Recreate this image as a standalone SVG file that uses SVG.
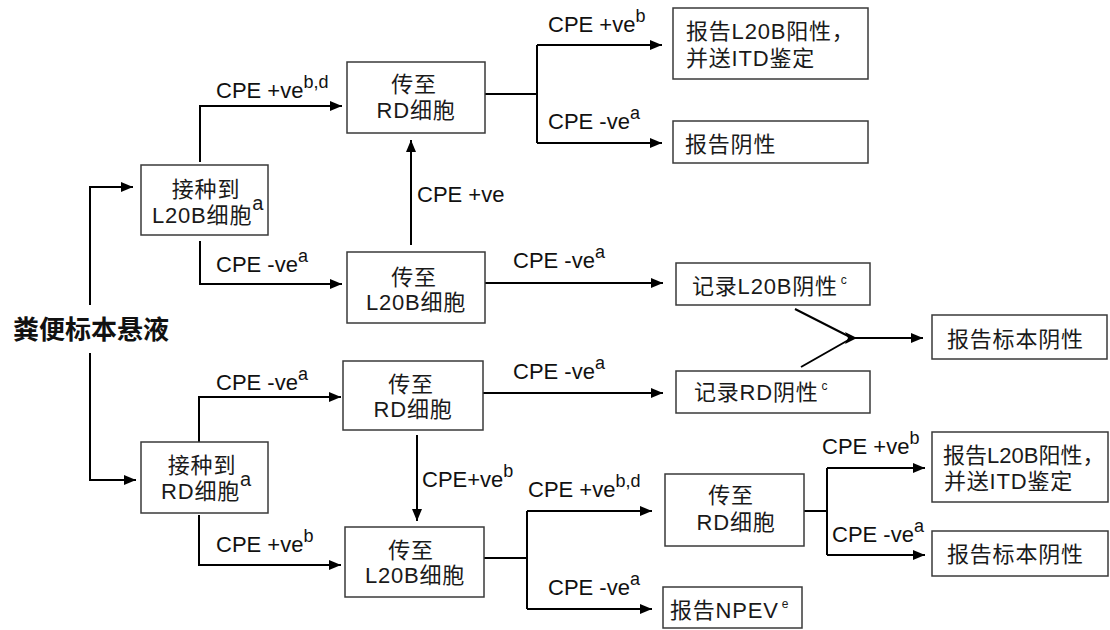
<svg xmlns="http://www.w3.org/2000/svg" width="1110" height="630" viewBox="0 0 1110 630">
<style>
.box{fill:#fff;stroke:#3a3a3a;stroke-width:1.5}
.t{font-family:"Liberation Sans","Noto Sans CJK SC",sans-serif;font-size:22px;letter-spacing:0.8px;fill:#1a1a1a}
.tn{letter-spacing:0}
.c{text-anchor:middle}
.lbl{font-family:"Liberation Sans","Noto Sans CJK SC",sans-serif;font-size:22px;fill:#111}
.sup{font-size:18px}
.sm{font-size:12px}
.main{font-family:"Liberation Sans","Noto Sans CJK SC",sans-serif;font-size:26px;font-weight:bold;fill:#111}
.ln{fill:none;stroke:#000;stroke-width:2}
.ar{marker-end:url(#ah)}
</style>
<defs>
<marker id="ah" markerUnits="userSpaceOnUse" markerWidth="13" markerHeight="11" refX="12" refY="5" orient="auto">
<path d="M0,0 L12,5 L0,10 z" fill="#000"/>
</marker>
</defs>
<rect width="1110" height="630" fill="#fff"/>

<g id="connectors">
<path class="ln ar" d="M90,305 V187 H133"/>
<path class="ln ar" d="M90,353 V480 H136"/>
<path class="ln ar" d="M200,162 V106 H342"/>
<path class="ln ar" d="M200,241 V284 H342"/>
<path class="ln" d="M485,94 H537 M537,45 V143"/>
<path class="ln ar" d="M537,45 H662"/>
<path class="ln ar" d="M537,143 H662"/>
<path class="ln ar" d="M411,245 V140"/>
<path class="ln ar" d="M485,283 H663"/>
<path class="ln" d="M795,309 L852,338 M801,367 L852,338"/>
<path d="M845,332 L857,338 L845,344 L848,338 z" fill="#000"/>
<path class="ln ar" d="M852,338 H923"/>
<path class="ln ar" d="M199,442 V397 H341"/>
<path class="ln ar" d="M199,515 V565 H341"/>
<path class="ln ar" d="M483,393 H663"/>
<path class="ln ar" d="M417,435 V521"/>
<path class="ln" d="M484,558 H527 M527,511 V609"/>
<path class="ln ar" d="M527,511 H652"/>
<path class="ln ar" d="M527,609 H652"/>
<path class="ln" d="M804,511 H827 M827,468 V555"/>
<path class="ln ar" d="M827,468 H925"/>
<path class="ln ar" d="M827,555 H925"/>
</g>

<g id="labels">
<text class="lbl" x="216" y="98">CPE +ve<tspan class="sup" dy="-10">b,d</tspan></text>
<text class="lbl" x="216" y="272">CPE -ve<tspan class="sup" dy="-10">a</tspan></text>
<text class="lbl" x="548" y="32">CPE +ve<tspan class="sup" dy="-10">b</tspan></text>
<text class="lbl" x="548" y="129">CPE -ve<tspan class="sup" dy="-10">a</tspan></text>
<text class="lbl" x="417" y="202">CPE +ve</text>
<text class="lbl" x="513" y="268">CPE -ve<tspan class="sup" dy="-10">a</tspan></text>
<text class="lbl" x="216" y="390">CPE -ve<tspan class="sup" dy="-10">a</tspan></text>
<text class="lbl" x="216" y="552">CPE +ve<tspan class="sup" dy="-10">b</tspan></text>
<text class="lbl" x="513" y="379">CPE -ve<tspan class="sup" dy="-10">a</tspan></text>
<text class="lbl" x="422" y="487">CPE+ve<tspan class="sup" dy="-10">b</tspan></text>
<text class="lbl" x="528" y="497">CPE +ve<tspan class="sup" dy="-10">b,d</tspan></text>
<text class="lbl" x="548" y="595">CPE -ve<tspan class="sup" dy="-10">a</tspan></text>
<text class="lbl" x="822" y="454">CPE +ve<tspan class="sup" dy="-10">b</tspan></text>
<text class="lbl" x="832" y="542">CPE -ve<tspan class="sup" dy="-10">a</tspan></text>
</g>

<g id="n-source">
<text class="main" x="13" y="339">粪便标本悬液</text>
</g>

<g id="n-inoc-l20b">
<rect class="box" x="141" y="165" width="127" height="70"/>
<text class="t c" x="206" y="197">接种到</text>
<text class="t" x="152" y="223">L20B细胞<tspan font-size="20" dy="-13">a</tspan></text>
</g>

<g id="n-rd-top">
<rect class="box" x="347" y="62" width="138" height="71"/>
<text class="t c" x="414" y="92">传至</text>
<text class="t c" x="416" y="118">RD细胞</text>
</g>

<g id="n-report-l20b-top">
<rect class="box" x="673" y="8" width="195" height="71"/>
<text class="t" x="686" y="39">报告L20B阳性，</text>
<text class="t" x="686" y="66">并送ITD鉴定</text>
</g>

<g id="n-report-neg-top">
<rect class="box" x="673" y="121" width="195" height="42"/>
<text class="t" x="685" y="152">报告阴性</text>
</g>

<g id="n-l20b-mid">
<rect class="box" x="347" y="252" width="138" height="71"/>
<text class="t c" x="414" y="285">传至</text>
<text class="t c" x="416" y="310">L20B细胞</text>
</g>

<g id="n-rec-l20b-neg">
<rect class="box" x="676" y="263" width="194" height="42"/>
<text class="t" x="692" y="294">记录L20B阴性<tspan class="sm" dx="3" dy="-10">c</tspan></text>
</g>

<g id="n-report-sample-neg-mid">
<rect class="box" x="932" y="315" width="175" height="44"/>
<text class="t" x="947" y="347">报告标本阴性</text>
</g>

<g id="n-rec-rd-neg">
<rect class="box" x="676" y="371" width="194" height="42"/>
<text class="t" x="694" y="400">记录RD阴性<tspan class="sm" dx="3" dy="-10">c</tspan></text>
</g>

<g id="n-inoc-rd">
<rect class="box" x="141" y="442" width="127" height="71"/>
<text class="t c" x="202" y="473">接种到</text>
<text class="t" x="161" y="499">RD细胞<tspan font-size="20" dy="-13">a</tspan></text>
</g>

<g id="n-rd-mid">
<rect class="box" x="343" y="361" width="140" height="69"/>
<text class="t c" x="411" y="392">传至</text>
<text class="t c" x="413" y="417">RD细胞</text>
</g>

<g id="n-l20b-bottom">
<rect class="box" x="345" y="527" width="139" height="70"/>
<text class="t c" x="411" y="558">传至</text>
<text class="t c" x="415" y="583">L20B细胞</text>
</g>

<g id="n-rd-bottom-right">
<rect class="box" x="665" y="474" width="139" height="72"/>
<text class="t c" x="731" y="503">传至</text>
<text class="t c" x="736" y="530">RD细胞</text>
</g>

<g id="n-report-l20b-bottom">
<rect class="box" x="932" y="432" width="176" height="70"/>
<text class="t tn" x="943" y="463">报告L20B阳性，</text>
<text class="t" x="944" y="489">并送ITD鉴定</text>
</g>

<g id="n-report-sample-neg-bottom">
<rect class="box" x="932" y="531" width="176" height="45"/>
<text class="t" x="947" y="562">报告标本阴性</text>
</g>

<g id="n-npev">
<rect class="box" x="663" y="587" width="139" height="41"/>
<text class="t" x="670" y="618">报告NPEV<tspan class="sm" dx="3" dy="-10">e</tspan></text>
</g>
</svg>
